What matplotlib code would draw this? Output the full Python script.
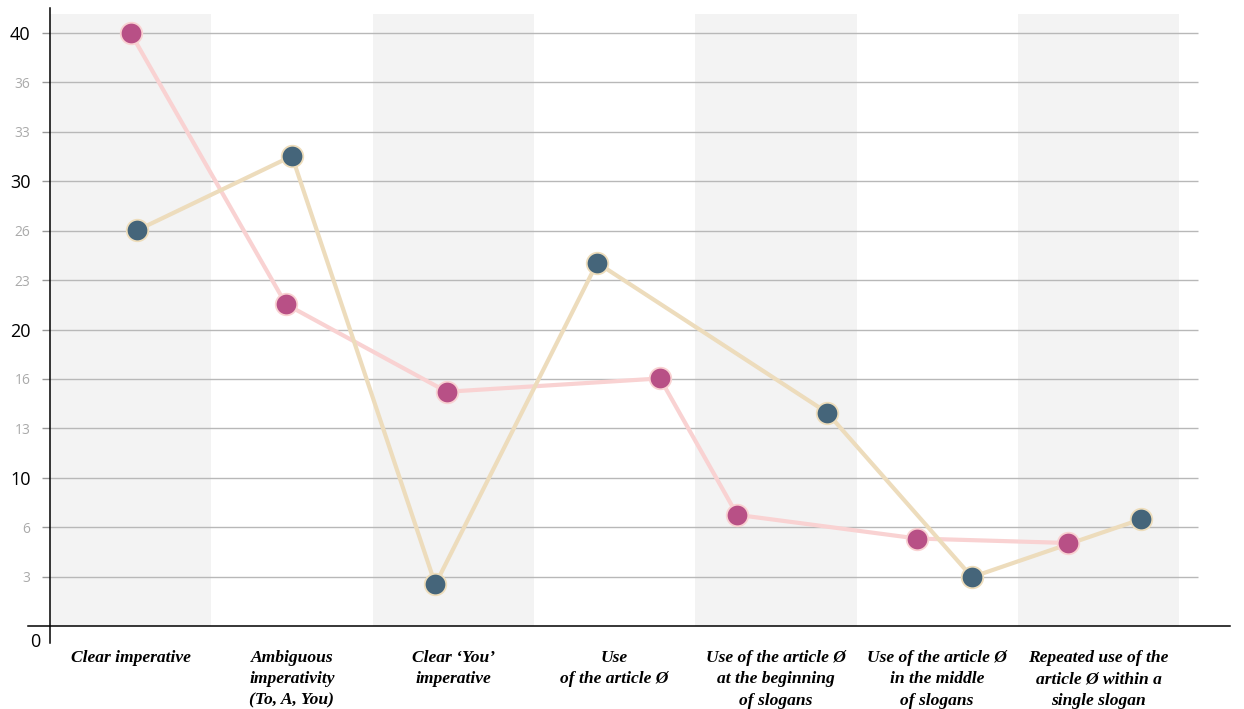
import matplotlib
matplotlib.use("Agg")
import matplotlib.pyplot as plt
import numpy as np

categories = [
    "Clear imperative",
    "Ambiguous\nimperativity\n(To, A, You)",
    "Clear \u2018You\u2019\nimperative",
    "Use\nof the article \u00d8",
    "Use of the article \u00d8\nat the beginning\nof slogans",
    "Use of the article \u00d8\nin the middle\nof slogans",
    "Repeated use of the\narticle \u00d8 within a\nsingle slogan",
]
pink_values = [40.0, 21.7, 15.8, 16.7, 7.5, 5.9, 5.6]
pink_offsets = [0.0, -0.037, -0.04, 0.282, -0.24, -0.124, -0.19]
blue_values = [26.7, 31.7, 2.8, 24.5, 14.4, 3.3, 7.2]
blue_offsets = [0.042, 0.0, -0.111, -0.108, 0.317, 0.216, 0.264]
ytick_labels = ["3", "6", "10", "13", "16", "20", "23", "26", "30", "33", "36", "40"]
major_labels = {"10", "20", "30", "40"}

W, H = 1244, 709
fig = plt.figure(figsize=(W / 100, H / 100), dpi=100)
ax_left, ax_right, ax_top, ax_bottom = 50, 1230, 8, 626
ax = fig.add_axes([ax_left / W, (H - ax_bottom) / H, (ax_right - ax_left) / W, (ax_bottom - ax_top) / H])

cat_w = 161.3  # px per category
y_px = 14.825  # px per unit
xmax = -0.5 + (ax_right - ax_left) / cat_w
ymax = (ax_bottom - ax_top) / y_px
ax.set_xlim(-0.5, xmax)
ax.set_ylim(0, ymax)

n = len(categories)
band_top = (ax_bottom - 14) / y_px
for i in range(0, n, 2):
    ax.axvspan(i - 0.5, i + 0.5, ymin=0, ymax=band_top / ymax, color="#F3F3F3", lw=0, zorder=0)

yticks = [40 * (k + 1) / 12 for k in range(len(ytick_labels))]
grid_end = -0.5 + (1198 - ax_left) / cat_w
ax.hlines(yticks, -0.5, grid_end, colors="#B8B8B8", lw=1.0, zorder=1)

x = np.arange(n)
px = x + np.array(pink_offsets)
bx = x + np.array(blue_offsets)
ax.plot(px, pink_values, color="#F9D2D2", lw=3, zorder=2, solid_capstyle="round")
ax.plot(bx, blue_values, color="#EDDCBC", lw=3, zorder=3, solid_capstyle="round")
ax.plot(px, pink_values, ls="none", marker="o", ms=15.5, mfc="#B85086", mec="#F9D2D2", mew=1.3, zorder=4)
ax.plot(bx, blue_values, ls="none", marker="o", ms=15.5, mfc="#45657A", mec="#EEDDBB", mew=1.3, zorder=5)

for s in ax.spines.values():
    s.set_visible(False)
# custom axis lines extending past origin
ax.plot([0, 0], [-17 / (ax_bottom - ax_top), 1], transform=ax.transAxes, color="black", lw=1.1, clip_on=False, zorder=6)
ax.plot([-22 / (ax_right - ax_left), 1], [0, 0], transform=ax.transAxes, color="black", lw=1.1, clip_on=False, zorder=6)

ax.set_yticks(yticks)
ax.set_yticklabels(ytick_labels)
ax.tick_params(axis="y", length=6, width=1, color="#999999", pad=8)
for lab in ax.get_yticklabels():
    lab.set_fontfamily("Open Sans")
    if lab.get_text() in major_labels:
        lab.set_color("black")
        lab.set_fontsize(13)
    else:
        lab.set_color("#AAAAAA")
        lab.set_fontsize(10)
ax.set_xticks([])

ax.text(-0.5 + (35 - ax_left) / cat_w, -16 / y_px, "0", ha="center", va="center",
        fontsize=13, family="Open Sans", color="black", clip_on=False)

for i, c in enumerate(categories):
    ax.text(i, -24 / y_px, c, ha="center", va="top", fontsize=12.6, family="Liberation Serif",
            fontweight="bold", fontstyle="italic", linespacing=1.45, clip_on=False)

fig.savefig("out.png", dpi=100)
